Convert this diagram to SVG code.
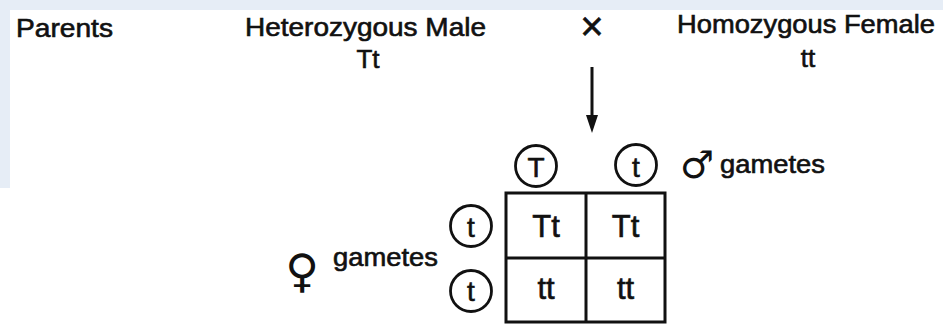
<svg xmlns="http://www.w3.org/2000/svg" width="943" height="325" viewBox="0 0 943 325">
<style>
.t{font-family:"Liberation Sans",Arial,sans-serif;fill:#111;stroke:#111;stroke-width:0.6;}
.h{font-size:25px;}
.c{font-size:26px;text-anchor:middle;}
.g{font-size:28px;text-anchor:middle;}
.cell{font-size:31px;text-anchor:middle;}
.ring{fill:none;stroke:#111;stroke-width:2.8;}
.grid{fill:none;stroke:#111;stroke-width:3;}
.sym{font-family:"DejaVu Sans",sans-serif;fill:#111;text-anchor:middle;}
</style>
<rect x="0" y="0" width="943" height="325" fill="#fff"/>
<rect x="0" y="0" width="943" height="10" fill="#e6edf6"/>
<rect x="0" y="0" width="10" height="188" fill="#e6edf6"/>

<g id="parents-label"><text class="t h" x="16" y="37" textLength="97" lengthAdjust="spacingAndGlyphs">Parents</text></g>
<g id="male-parent">
<text class="t h" x="245" y="36" textLength="241" lengthAdjust="spacingAndGlyphs">Heterozygous Male</text>
<text class="t c" x="368" y="68" font-size="24">Tt</text>
</g>
<g id="cross"><text class="t" x="592" y="40" font-size="40" text-anchor="middle">×</text></g>
<g id="female-parent">
<text class="t h" x="677" y="33" textLength="258" lengthAdjust="spacingAndGlyphs">Homozygous Female</text>
<text class="t c" x="808" y="67" font-size="24">tt</text>
</g>

<g id="connectors">
<line x1="592" y1="67" x2="592" y2="117" stroke="#111" stroke-width="3"/>
<polygon points="586,115 598,115 592,133" fill="#111"/>
</g>

<g id="male-gametes">
<circle class="ring" cx="536" cy="166" r="20.5"/>
<text class="t g" x="536" y="176.5">T</text>
<circle class="ring" cx="636" cy="165" r="20.5"/>
<text class="t g" x="636" y="176.5">t</text>
<text class="sym" x="697" y="178" font-size="38">♂</text>
<text class="t h" x="720" y="173" textLength="105" lengthAdjust="spacingAndGlyphs">gametes</text>
</g>

<g id="female-gametes">
<circle class="ring" cx="471" cy="226" r="20.5"/>
<text class="t g" x="471" y="237">t</text>
<circle class="ring" cx="471" cy="291" r="20.5"/>
<text class="t g" x="471" y="301">t</text>
<text class="sym" x="302" y="287" font-size="46">♀</text>
<text class="t h" x="333" y="266" textLength="105" lengthAdjust="spacingAndGlyphs">gametes</text>
</g>

<g id="punnett-square">
<rect class="grid" x="506" y="193" width="159" height="129"/>
<line class="grid" x1="586" y1="193" x2="586" y2="322"/>
<line class="grid" x1="506" y1="258" x2="665" y2="258"/>
<text class="t cell" x="546" y="237">Tt</text>
<text class="t cell" x="625.5" y="237">Tt</text>
<text class="t cell" x="546" y="299">tt</text>
<text class="t cell" x="625.5" y="299">tt</text>
</g>
</svg>
